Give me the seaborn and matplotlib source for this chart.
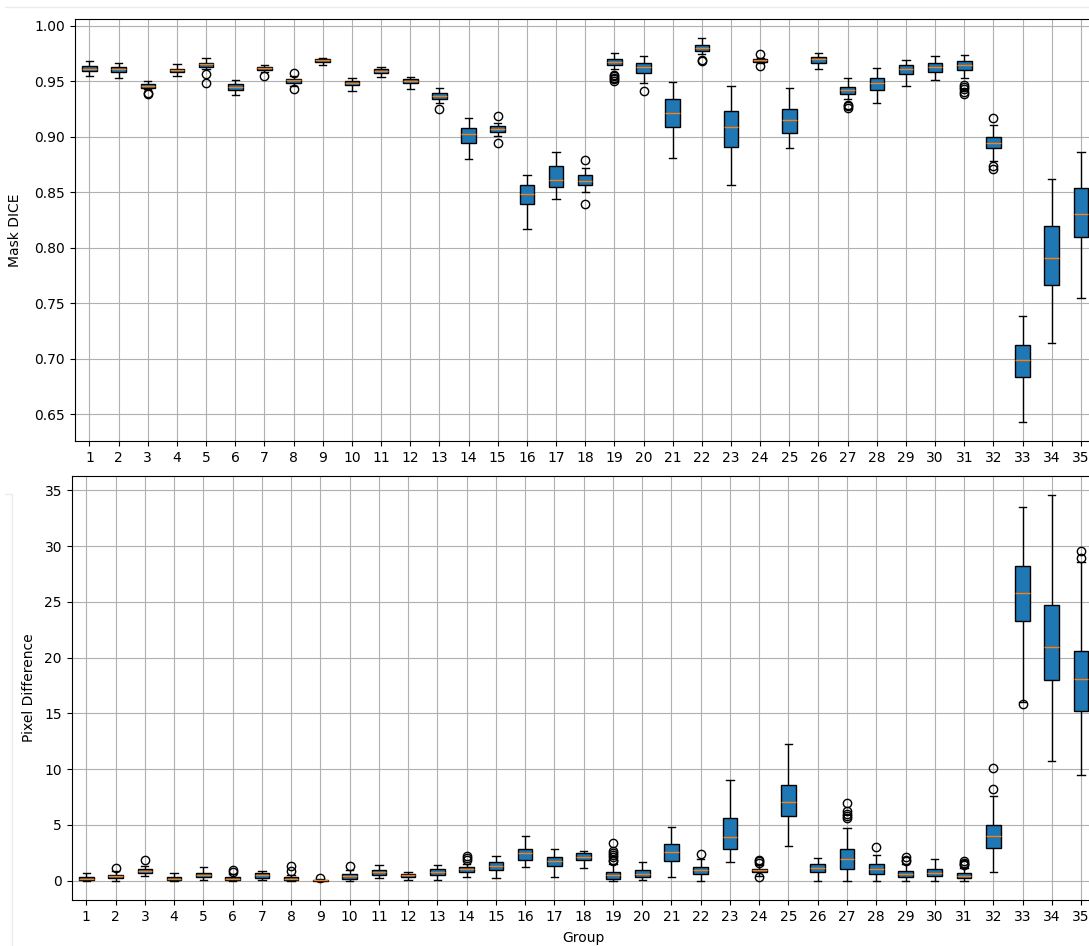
import numpy as np
import pandas as pd
import matplotlib
matplotlib.use("Agg")
import matplotlib.pyplot as plt
from matplotlib.lines import Line2D
import seaborn as sns

groups = [str(i) for i in range(1, 36)]

# ---- Mask DICE box statistics ----
dice_lo = [.9547, .9527, .9430, .9547, .9605, .9377, .9585, .9460, .9641, .9415,
           .9536, .9428, .9305, .8800, .9005, .8165, .8440, .8497, .9605, .9480,
           .8808, .9745, .8563, .9660, .8895, .9605, .9335, .9302, .9458, .9509,
           .9525, .8780, .6428, .7138, .7545]
dice_q1 = [.9587, .9578, .9442, .9578, .9628, .9422, .9598, .9485, .9668, .9464,
           .9569, .9479, .9341, .8946, .9044, .8393, .8542, .8563, .9641, .9569,
           .9084, .9772, .8904, .9675, .9033, .9664, .9388, .9416, .9565, .9583,
           .9598, .8898, .6833, .7665, .8099]
dice_med = [.9610, .9605, .9458, .9596, .9650, .9449, .9614, .9506, .9686, .9482,
            .9587, .9497, .9368, .9024, .9071, .8482, .8611, .8602, .9668, .9625,
            .9212, .9799, .9087, .9686, .9152, .9695, .9422, .9479, .9608, .9628,
            .9646, .8946, .6991, .7908, .8303]
dice_q3 = [.9632, .9628, .9470, .9610, .9664, .9470, .9628, .9518, .9697, .9500,
           .9605, .9515, .9395, .9075, .9093, .8563, .8739, .8650, .9695, .9664,
           .9341, .9826, .9233, .9697, .9251, .9715, .9446, .9527, .9646, .9661,
           .9682, .9000, .7126, .8191, .8536]
dice_hi = [.9677, .9659, .9497, .9650, .9706, .9509, .9643, .9545, .9709, .9530,
           .9628, .9536, .9440, .9165, .9125, .8653, .8865, .8721, .9754, .9727,
           .9491, .9886, .9458, .9710, .9440, .9754, .9525, .9617, .9686, .9724,
           .9736, .9105, .7383, .8617, .8865]
dice_fliers = [[], [], [.9385, .9393], [], [.9485, .9560], [], [.9545], [.9425, .9574], [], [],
               [], [], [.9251], [], [.8946, .9185], [], [], [.8393, .8790],
               [.9500, .9515, .9530, .9545, .9555], [.9410],
               [], [.9683, .9688], [], [.9635, .9745], [], [], [.9262, .9272, .9282], [], [], [],
               [.9380, .9405, .9430, .9450, .9465], [.8710, .8735, .9168], [], [], []]

# ---- Pixel Difference box statistics ----
pix_lo = [0.0, 0.0, 0.45, 0.0, 0.03, 0.0, 0.03, 0.0, 0.0, 0.0,
          0.2, 0.03, 0.03, 0.33, 0.24, 1.26, 0.36, 1.11, 0.0, 0.03,
          0.36, 0.0, 1.65, 0.45, 3.14, 0.0, 0.0, 0.0, 0.0, 0.0,
          0.0, 0.78, 16.0, 10.75, 9.46]
pix_q1 = [0.05, 0.2, 0.69, 0.04, 0.3, 0.04, 0.27, 0.06, 0.02, 0.15,
          0.48, 0.36, 0.48, 0.81, 0.93, 1.89, 1.35, 1.83, 0.18, 0.3,
          1.77, 0.57, 2.82, 0.78, 5.81, 0.75, 1.08, 0.57, 0.33, 0.42,
          0.24, 2.94, 23.3, 18.0, 15.23]
pix_med = [0.18, 0.39, 0.87, 0.18, 0.54, 0.18, 0.48, 0.15, 0.05, 0.39,
           0.75, 0.51, 0.81, 1.02, 1.32, 2.51, 1.77, 2.13, 0.48, 0.63,
           2.58, 0.93, 3.92, 0.93, 7.09, 1.11, 1.98, 1.02, 0.57, 0.72,
           0.42, 4.04, 25.76, 20.95, 18.04]
pix_q3 = [0.32, 0.55, 1.05, 0.3, 0.72, 0.3, 0.69, 0.36, 0.1, 0.57,
          0.93, 0.63, 1.02, 1.23, 1.68, 2.82, 2.13, 2.46, 0.78, 0.96,
          3.27, 1.26, 5.6, 1.05, 8.59, 1.47, 2.82, 1.5, 0.87, 1.08,
          0.69, 5.0, 28.25, 24.7, 20.62]
pix_hi = [0.68, 0.85, 1.35, 0.66, 1.26, 0.6, 0.84, 0.55, 0.18, 0.95,
          1.38, 0.78, 1.38, 1.5, 2.25, 4.04, 2.85, 2.69, 1.5, 1.68,
          4.82, 1.95, 9.07, 1.4, 12.24, 2.04, 4.76, 2.3, 1.5, 1.95,
          1.1, 7.6, 33.5, 34.55, 28.55]
pix_fliers = [[], [1.15], [1.86], [], [], [0.81, 0.96], [], [0.87, 1.29], [0.28], [1.35],
              [], [], [], [1.9, 2.01, 2.22], [], [], [], [],
              [1.75, 1.9, 2.1, 2.3, 2.5, 2.67, 3.36], [],
              [], [2.42], [], [0.3, 1.6, 1.75, 1.9], [], [], [5.6, 5.8, 5.96, 6.26, 7.0],
              [3.05], [1.77, 1.9, 2.15], [], [1.4, 1.47, 1.6, 1.77], [8.2, 10.09],
              [15.8], [], [28.9, 29.53]]


def samples_from_stats(lo, q1, med, q3, hi, fl):
    """Build a sample whose quartiles / whiskers / fliers equal the read values."""
    low_f = sorted(v for v in fl if v < q1)
    high_f = sorted(v for v in fl if v > q3)
    m = max(len(low_f) + 1, len(high_f) + 1, 1)
    lower = low_f + [lo] + [q1] * (m - len(low_f) - 1)
    upper = [q3] * (m - len(high_f) - 1) + [hi] + high_f
    s = lower + [q1] + [med] * (m - 1) + [med] + [q3] * (m - 1) + [q3] + upper
    return s


def build_frame(los, q1s, meds, q3s, his, fls):
    rows = []
    for g, lo, a, b, c, hi, fl in zip(groups, los, q1s, meds, q3s, his, fls):
        for v in samples_from_stats(lo, a, b, c, hi, fl):
            rows.append((g, v))
    return pd.DataFrame(rows, columns=["Group", "value"])


df_dice = build_frame(dice_lo, dice_q1, dice_med, dice_q3, dice_hi, dice_fliers)
df_pix = build_frame(pix_lo, pix_q1, pix_med, pix_q3, pix_hi, pix_fliers)

plt.rcParams["font.family"] = ["DejaVu Sans"]
plt.rcParams["font.size"] = 10

W, H = 1089, 946
fig = plt.figure(figsize=(W / 100, H / 100), dpi=100)
ax1 = fig.add_axes([74.9 / W, (H - 441.5) / H, 1020.6 / W, 422.5 / H])
ax2 = fig.add_axes([71.7 / W, (H - 900) / H, 1024.0 / W, 424.0 / H])

box_kw = dict(order=groups, color="#1f77b4", saturation=1, width=0.5,
              linewidth=1, linecolor="black", fliersize=6, whis=1.5,
              medianprops={"color": "#ff7f0e", "linewidth": 1},
              flierprops={"marker": "o", "markerfacecolor": "none",
                          "markeredgecolor": "black"})

sns.boxplot(data=df_dice, x="Group", y="value", ax=ax1, **box_kw)
sns.boxplot(data=df_pix, x="Group", y="value", ax=ax2, **box_kw)

for ax in (ax1, ax2):
    ax.grid(True, color="#b0b0b0", linewidth=0.8)
    ax.set_axisbelow("line")
    for sp in ax.spines.values():
        sp.set_color("black")
        sp.set_linewidth(0.8)

ax1.set_ylabel("Mask DICE", labelpad=9)
ax1.set_xlabel("")
ax2.set_ylabel("Pixel Difference", labelpad=6)
ax2.set_xlabel("Group", labelpad=5)

# faint screenshot frame lines
fig.add_artist(Line2D([5 / W, 1.0], [(H - 7) / H, (H - 7) / H],
                      transform=fig.transFigure, color="#ececec", linewidth=1))
fig.add_artist(Line2D([5 / W, 12.3 / W, 12.3 / W], [(H - 494) / H, (H - 494) / H, 0],
                      transform=fig.transFigure, color="#ececec", linewidth=1))

fig.savefig("out.png", dpi=100)
